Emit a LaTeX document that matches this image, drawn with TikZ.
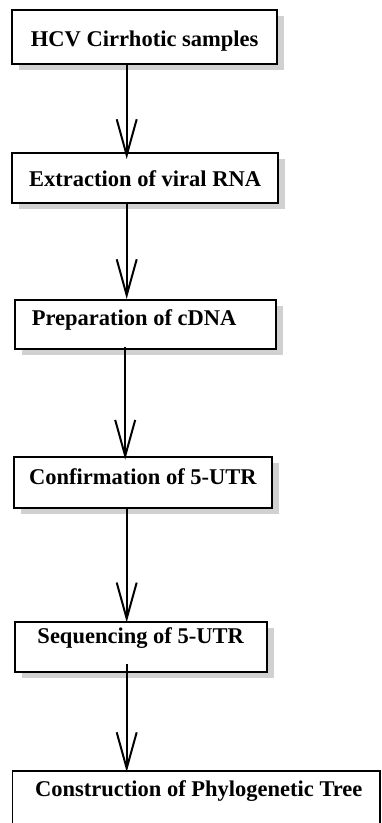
\documentclass[tikz,border=0pt]{standalone}
\usepackage{fontspec}
\setmainfont{Liberation Serif}
\usetikzlibrary{arrows.meta,shadows}
\begin{document}
\begin{tikzpicture}[x=1pt,y=-1pt,
  box/.style={draw=black,line width=2pt,fill=white,inner sep=0pt,
    drop shadow={shadow xshift=7pt,shadow yshift=-6pt,fill=black!18,opacity=1}},
  lastbox/.style={draw=black,line width=1.3pt,fill=white,inner sep=0pt},
  lbl/.style={anchor=base west,inner sep=0pt,font=\fontsize{22.5}{26}\selectfont\bfseries},
  flow/.style={line width=2pt,-{Straight Barb[length=36pt,width=20pt]}}]
\useasboundingbox (0,0) rectangle (382,823);
\clip (0,0) rectangle (382,823);
% boxes
\node[box,minimum width=264.7pt,minimum height=54pt] (b1) at (144.65,37) {};
\node[box,minimum width=266.3pt,minimum height=50pt] (b2) at (144.85,177.7) {};
\node[box,minimum width=261pt,minimum height=48.7pt] (b3) at (145.8,324.35) {};
\node[box,minimum width=258pt,minimum height=51.3pt] (b4) at (143,482.35) {};
\node[box,minimum width=251.4pt,minimum height=50pt] (b5) at (141,646.7) {};
\node[lastbox,minimum width=367.3pt,minimum height=80pt] (b6) at (196.35,811) {};
% labels
\node[lbl] (t1) at (30.7,46.7) {HCV Cirrhotic samples};
\node[lbl] (t2) at (29,186) {Extraction of viral RNA};
\node[lbl] (t3) at (31.7,325) {Preparation of cDNA};
\node[lbl] (t4) at (29,484) {Confirmation of 5-UTR};
\node[lbl] (t5) at (37.3,643.3) {Sequencing of 5-UTR};
\node[lbl] (t6) at (35,796.7) {Construction of Phylogenetic Tree};
% arrow axis
\coordinate (ax) at (126.7,0);
\coordinate (ax3) at (125.2,0);
\draw[flow,shorten >=-7.3pt] (b1.south -| ax) -- (b2.north -| ax);
\draw[flow] (b2.south -| ax) -- (b3.north -| ax);
\draw[flow,shorten <=-3pt,shorten >=-4pt] (b3.south -| ax3) -- (b4.north -| ax3);
\draw[flow,shorten >=-1.6pt] (b4.south -| ax) -- (b5.north -| ax);
\draw[flow,shorten <=-8.4pt,shorten >=-1.7pt] (b5.south -| ax) -- (b6.north -| ax);
\end{tikzpicture}
\end{document}
